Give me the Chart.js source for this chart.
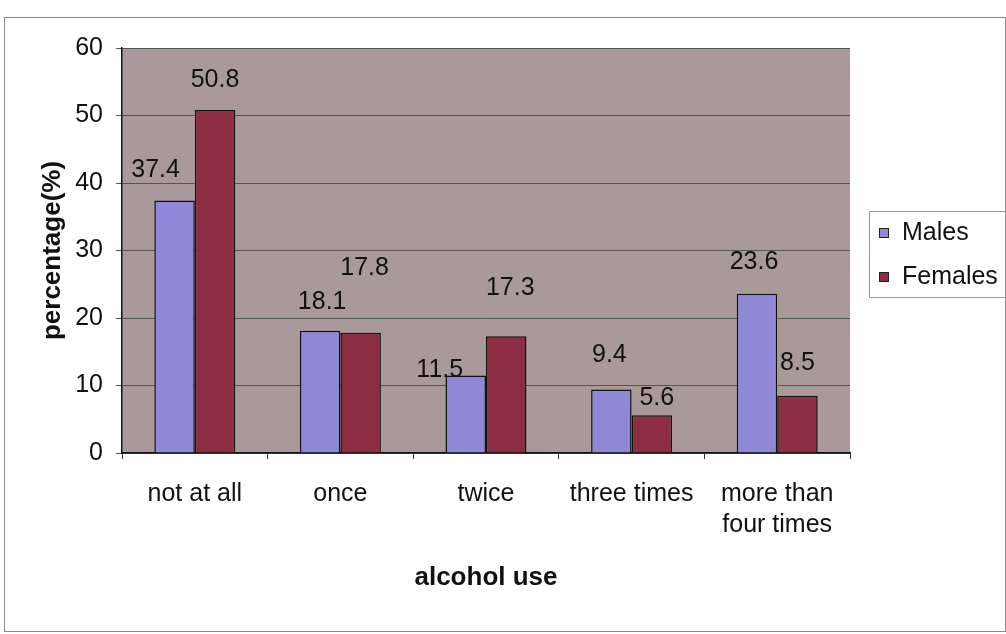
<!DOCTYPE html>
<html>
<head>
<meta charset="utf-8">
<script src="https://cdn.jsdelivr.net/npm/chart.js@4"></script>
<style>
  html, body { margin: 0; padding: 0; background: #fff; }
  #wrap { width: 1006px; height: 634px; }
</style>
</head>
<body>
<div id="wrap"><canvas id="chart" width="1006" height="634"></canvas></div>
<script>
// data
var categories = ['not at all', 'once', 'twice', 'three times', ['more than', 'four times']];
var males = [37.4, 18.1, 11.5, 9.4, 23.6];
var females = [50.8, 17.8, 17.3, 5.6, 8.5];
var yTicks = [0, 10, 20, 30, 40, 50, 60];

// label nudges (pixels) relative to bar top, the scan puts some labels oddly
var maleLabelShift = [[-19, -30], [2, -29], [-26, -5], [-2, -34], [-3, -32]];
var femaleLabelShift = [[0, -30], [4, -65], [4, -48], [5, -17], [0, -33]];

var FONT = '"Liberation Sans", Arial, sans-serif';

var decorPlugin = {
  id: 'decor',
  beforeDraw: function (chart) {
    var c = chart.ctx, a = chart.chartArea;
    c.save();
    c.fillStyle = '#ffffff';
    c.fillRect(0, 0, chart.width, chart.height);
    // outer frame
    c.strokeStyle = '#8a8a8a';
    c.lineWidth = 1;
    c.strokeRect(4.5, 17.5, 1001, 614);
    // plot background
    c.fillStyle = '#a9999b';
    c.fillRect(a.left, a.top, a.right - a.left, a.bottom - a.top);
    c.restore();
  },
  afterDraw: function (chart) {
    var c = chart.ctx, a = chart.chartArea;
    c.save();
    // value labels
    c.font = '25px ' + FONT;
    c.fillStyle = '#111';
    c.textAlign = 'center';
    c.textBaseline = 'middle';
    var shifts = [maleLabelShift, femaleLabelShift];
    chart.data.datasets.forEach(function (ds, di) {
      chart.getDatasetMeta(di).data.forEach(function (bar, i) {
        var s = shifts[di][i];
        c.fillText(ds.data[i].toFixed(1), bar.x + s[0], bar.y + s[1]);
      });
    });
    // axis titles
    c.font = 'bold 26px ' + FONT;
    c.fillText('alcohol use', (a.left + a.right) / 2, 578);
    c.translate(53, (a.top + a.bottom) / 2);
    c.rotate(-Math.PI / 2);
    c.fillText('percentage(%)', 0, 0);
    c.restore();

    // legend
    c.save();
    c.strokeStyle = '#9a9a9a';
    c.lineWidth = 1;
    c.strokeRect(869.5, 211.5, 140, 86);
    c.font = '25px ' + FONT;
    c.textAlign = 'left';
    c.textBaseline = 'middle';
    chart.data.datasets.forEach(function (ds, di) {
      var y = 233 + di * 44;
      c.fillStyle = ds.backgroundColor;
      c.fillRect(879, y - 5, 10, 10);
      c.strokeStyle = '#222';
      c.strokeRect(879.5, y - 4.5, 9, 9);
      c.fillStyle = '#111';
      c.fillText(ds.label, 902, y);
    });
    c.restore();
  }
};

new Chart(document.getElementById('chart'), {
  type: 'bar',
  data: {
    labels: categories,
    datasets: [
      { label: 'Males', data: males, backgroundColor: '#8f88d6', borderColor: '#111', borderWidth: 1.5 },
      { label: 'Females', data: females, backgroundColor: '#8c2d43', borderColor: '#111', borderWidth: 1.5 }
    ]
  },
  options: {
    responsive: false,
    animation: false,
    devicePixelRatio: 1,
    layout: { padding: { left: 0, top: 48, right: 156, bottom: 0 } },
    categoryPercentage: 0.556,
    barPercentage: 1,
    plugins: { legend: { display: false }, tooltip: { enabled: false } },
    scales: {
      x: {
        offset: true,
        afterFit: function (s) { s.height = 181; },
        grid: { offset: true, drawOnChartArea: false, drawTicks: true, tickLength: 6, color: '#333' },
        border: { color: '#111', width: 1.5 },
        ticks: { color: '#111', font: { family: FONT, size: 25, lineHeight: 1.26 }, padding: 19, maxRotation: 0, autoSkip: false }
      },
      y: {
        min: 0, max: 60,
        afterFit: function (s) { s.width = 122; },
        afterBuildTicks: function (s) { s.ticks = yTicks.map(function (v) { return { value: v }; }); },
        grid: { color: '#555', lineWidth: 1, tickLength: 6 },
        border: { color: '#111', width: 1.5 },
        ticks: { color: '#111', font: { family: FONT, size: 25 }, padding: 13 }
      }
    }
  },
  plugins: [decorPlugin]
});
</script>
</body>
</html>
